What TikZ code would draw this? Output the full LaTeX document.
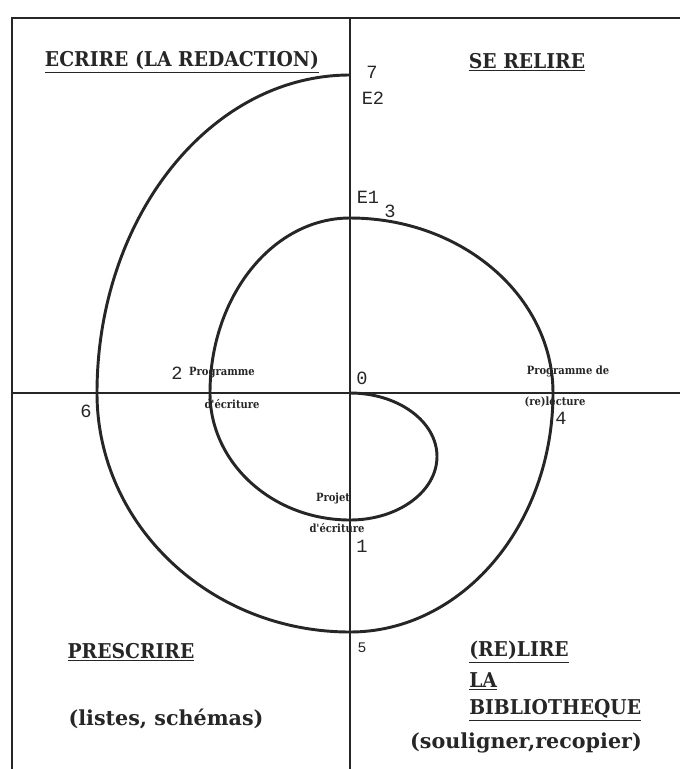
\documentclass[tikz,border=0pt]{standalone}
\usepackage{fontspec}
\setmainfont{Liberation Serif}
\newfontfamily\monof{Liberation Mono}
\newfontfamily\slab[FakeStretch=0.92]{DejaVu Serif}
\newfontfamily\slabw{DejaVu Serif}
\newfontfamily\slabs[FakeStretch=0.88]{DejaVu Serif}
\begin{document}
\begin{tikzpicture}[x=0.75pt,y=-0.75pt,
  axis/.style={line width=1.4pt, draw=black!85},
  spiral/.style={line width=2.2pt, draw=black!85},
  head/.style={font=\slab\bfseries\fontsize{15.3}{18}\selectfont, inner sep=0pt, text=black!85},
  sub/.style={font=\slabw\bfseries\fontsize{15.5}{18}\selectfont, inner sep=0pt, text=black!85},
  num/.style={font=\monof\fontsize{14}{16}\selectfont, inner sep=0pt, text=black!85},
  smallnum/.style={font=\monof\fontsize{11}{13}\selectfont, inner sep=0pt, text=black!85},
  tiny/.style={font=\slabs\bfseries\fontsize{8.5}{10}\selectfont, inner sep=0pt, text=black!85}]
\useasboundingbox (0,0) rectangle (680,769);
% frame and axes
\draw[axis] (12,769) -- (12,18) -- (680,18);
\draw[axis] (350,18) -- (350,769);
\draw[axis] (12,393) -- (680,393);
% spiral
\draw[spiral] (350,393)
  arc[start angle=270, end angle=450, x radius=87, y radius=63.5]
  arc[start angle=90, end angle=180, x radius=140, y radius=127]
  arc[start angle=180, end angle=270, x radius=140, y radius=175]
  arc[start angle=270, end angle=360, x radius=203, y radius=175]
  arc[start angle=0, end angle=90, x radius=203, y radius=239]
  arc[start angle=90, end angle=180, x radius=253, y radius=239]
  arc[start angle=180, end angle=270, x radius=253, y radius=318];
% headings
\node[head] (ecrire) at (182,62) {\underline{ECRIRE (LA REDACTION)}};
\node[head] (relire) at (527,62) {\underline{SE RELIRE}};
\node[head] (prescrire) at (131,652) {\underline{PRESCRIRE}};
\node[sub] (listes) at (166,719) {(listes, schémas)};
\node[head, anchor=west] (relire2) at (469,652) {\underline{(RE)LIRE}};
\node[head, anchor=west] (la) at (469,681) {\underline{LA}};
\node[head, anchor=west] (biblio) at (469,710) {\underline{BIBLIOTHEQUE}};
\node[sub] (souligner) at (526,743) {(souligner,recopier)};
% numbers
\node[num] (n7) at (372,72) {7};
\node[num] (e2) at (373,98) {E2};
\node[num] (e1) at (368,197) {E1};
\node[num] (n3) at (390,211) {3};
\node[num] (n0) at (362,378) {0};
\node[num] (n2) at (177,373) {2};
\node[num] (n4) at (561,418) {4};
\node[num] (n6) at (86,411) {6};
\node[num] (n1) at (362,546) {1};
\node[smallnum] (n5) at (362,648) {5};
% small labels
\node[tiny] (prog1) at (222,373) {Programme};
\node[tiny] (ecr1) at (232,404) {d'écriture};
\node[tiny] (prog2) at (568,371) {Programme de};
\node[tiny] (lect) at (555,402) {(re)lecture};
\node[tiny] (projet) at (333,498) {Projet};
\node[tiny] (ecr2) at (337,528) {d'écriture};
\end{tikzpicture}
\end{document}
